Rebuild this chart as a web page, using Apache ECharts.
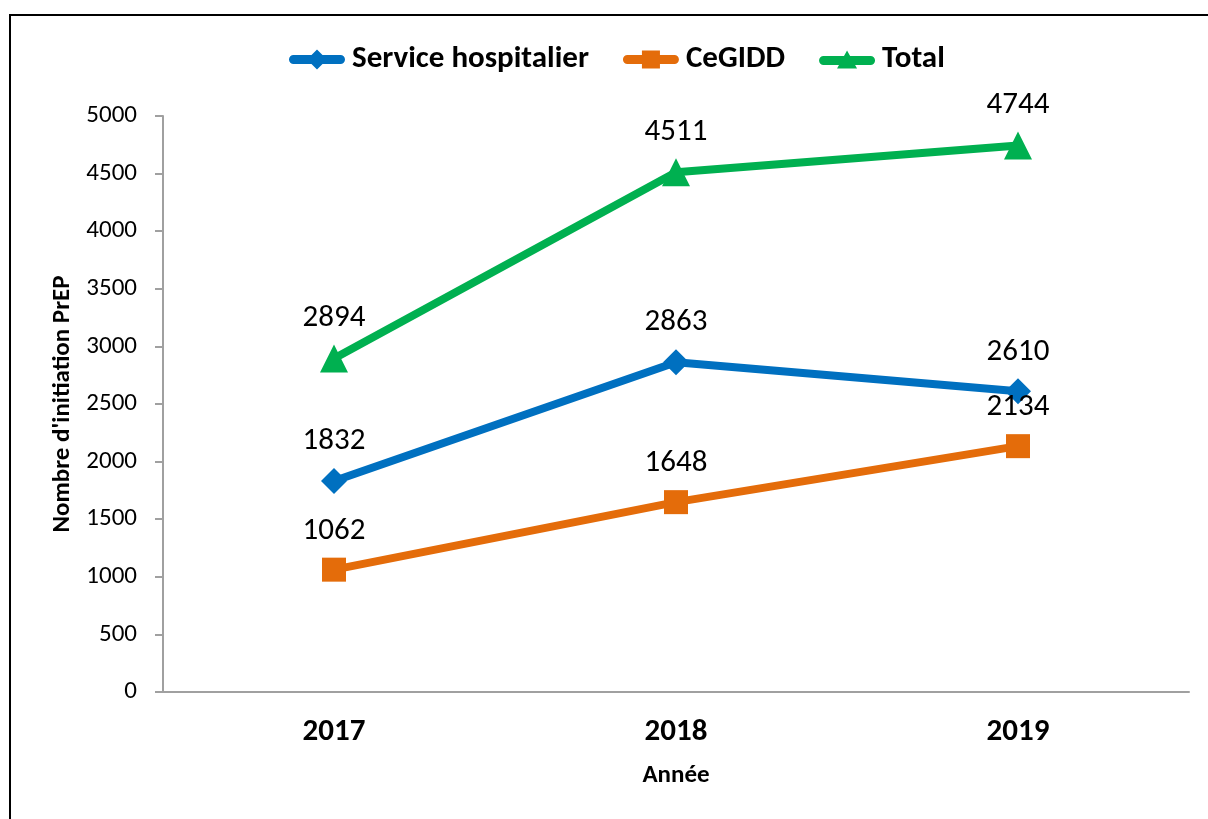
<!DOCTYPE html>
<html><head><meta charset="utf-8">
<script src="https://cdn.jsdelivr.net/npm/echarts@6/dist/echarts.min.js"></script>
<style>html,body{margin:0;padding:0;background:#fff}#c{width:1208px;height:819px;position:relative}</style>
</head><body>
<div id="c"></div>
<script>
const years = ['2017', '2018', '2019'];
const service = [1832, 2863, 2610];
const cegidd = [1062, 1648, 2134];
const total = [2894, 4511, 4744];
const yTicks = [0, 500, 1000, 1500, 2000, 2500, 3000, 3500, 4000, 4500, 5000];

const chart = echarts.init(document.getElementById('c'), null, {renderer: 'canvas'});
const F = 'Carlito, Lato, "Open Sans", sans-serif';
const bar = 'M4.5,5.5 L51.5,5.5 A4.5,4.5 0 0 1 51.5,14.5 L4.5,14.5 A4.5,4.5 0 0 1 4.5,5.5 Z ';
const icons = {
  'Service hospitalier': 'path://' + bar + 'M28,0 L38,10 L28,20 L18,10 Z',
  'CeGIDD': 'path://' + bar + 'M19,1 L37,1 L37,19 L19,19 Z',
  'Total': 'path://' + bar + 'M28,0 L38,18 L18,18 Z'
};
function ser(name, data, color, symbol, size) {
  return {
    name, type: 'line', data, symbol, symbolSize: size,
    lineStyle: {width: 8, color}, itemStyle: {color},
    label: {show: true, position: 'top', distance: 11, fontSize: 31, color: '#000', fontFamily: F},
    z: 3
  };
}
chart.setOption({
  animation: false,
  backgroundColor: '#fff',
  graphic: [{type: 'rect', shape: {x: 10, y: 15, width: 1300, height: 900}, style: {fill: 'none', stroke: '#000', lineWidth: 2}}],
  legend: {
    top: 39, left: 284, itemWidth: 56, itemHeight: 20, itemGap: 34,
    data: Object.keys(icons).map(n => ({name: n, icon: icons[n]})),
    textStyle: {fontSize: 31, fontWeight: 'bold', color: '#000', fontFamily: F, padding: [0, 0, 0, 2]}
  },
  grid: {left: 163, right: 19, top: 116, bottom: 127},
  xAxis: {
    type: 'category', data: years, boundaryGap: true,
    axisLine: {lineStyle: {color: '#a0a0a0', width: 2}},
    axisTick: {show: false},
    axisLabel: {fontSize: 31, fontWeight: 'bold', color: '#000', margin: 25, fontFamily: F},
    name: 'Année', nameLocation: 'middle', nameGap: 71,
    nameTextStyle: {fontSize: 25, fontWeight: 'bold', color: '#000', fontFamily: F}
  },
  yAxis: {
    type: 'value', min: 0, max: 5000, interval: 500,
    axisLine: {show: true, lineStyle: {color: '#a0a0a0', width: 2}},
    axisTick: {show: true, length: 8, lineStyle: {color: '#a0a0a0', width: 2}},
    splitLine: {show: false},
    axisLabel: {fontSize: 25, color: '#000', margin: 26, fontFamily: F,
      formatter: v => yTicks.includes(v) ? String(v) : ''},
    name: "Nombre d'initiation PrEP", nameLocation: 'middle', nameGap: 88, nameRotate: 90,
    nameTextStyle: {fontSize: 25, fontWeight: 'bold', color: '#000', fontFamily: F}
  },
  series: [
    ser('Service hospitalier', service, '#0070C0', 'diamond', 26),
    ser('CeGIDD', cegidd, '#E46C0A', 'rect', 24),
    ser('Total', total, '#00B050', 'triangle', 28)
  ]
});
</script>
</body></html>
